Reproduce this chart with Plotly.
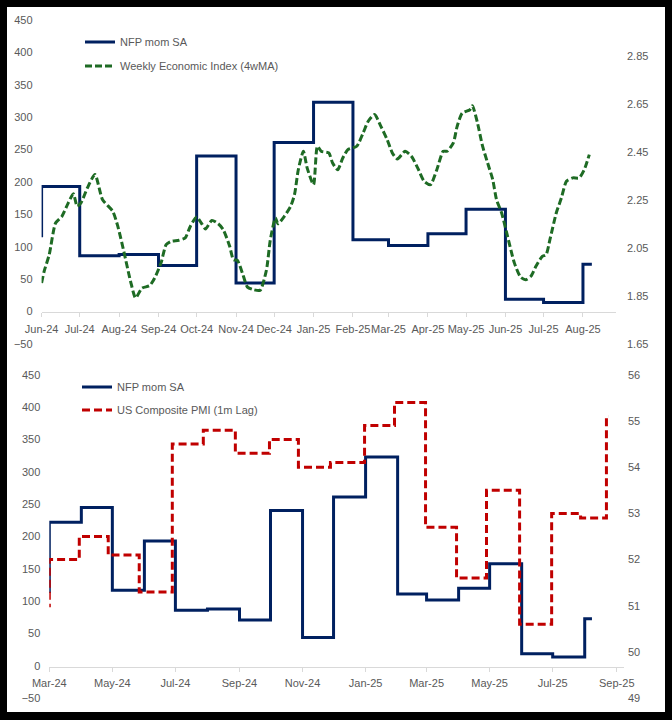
import plotly.graph_objects as go

# ---------------- data ----------------
nfp_dates = ["2024-02-01", "2024-03-01", "2024-04-01", "2024-05-01", "2024-06-01", "2024-07-01",
             "2024-08-01", "2024-09-01", "2024-10-01", "2024-11-01", "2024-12-01", "2025-01-01",
             "2025-02-01", "2025-03-01", "2025-04-01", "2025-05-01", "2025-06-01", "2025-07-01",
             "2025-08-01", "2025-08-08"]
nfp_values = [115, 222, 245, 117, 193, 86, 88, 71, 240, 44, 261, 323, 111, 102, 120, 158, 19, 14, 73, 73]

pmi_dates = ["2024-02-01", "2024-03-01", "2024-03-30", "2024-04-27", "2024-05-27", "2024-06-28",
             "2024-07-28", "2024-08-28", "2024-09-30", "2024-10-28", "2024-11-28", "2024-12-31",
             "2025-01-29", "2025-02-28", "2025-03-30", "2025-04-28", "2025-05-30", "2025-06-30",
             "2025-07-28", "2025-08-22", "2025-08-24"]
pmi_values = [51.0, 52.0, 52.5, 52.1, 51.3, 54.5, 54.8, 54.3, 54.6, 54.0, 54.1, 54.9,
              55.4, 52.7, 51.6, 53.5, 50.6, 53.0, 52.9, 55.1, 55.1]

wei_dates = ["2024-06-01", "2024-06-03", "2024-06-07", "2024-06-12", "2024-06-17", "2024-06-22",
             "2024-06-26", "2024-06-29", "2024-07-02", "2024-07-07", "2024-07-13", "2024-07-19",
             "2024-07-27", "2024-07-31", "2024-08-05", "2024-08-10", "2024-08-14", "2024-08-19",
             "2024-08-25", "2024-08-29", "2024-09-03", "2024-09-07", "2024-09-11", "2024-09-17",
             "2024-09-22", "2024-09-26", "2024-10-01", "2024-10-05", "2024-10-08", "2024-10-13",
             "2024-10-18", "2024-10-22", "2024-10-27", "2024-10-30", "2024-11-02", "2024-11-06",
             "2024-11-10", "2024-11-15", "2024-11-20", "2024-11-25", "2024-11-28", "2024-12-02",
             "2024-12-04", "2024-12-09", "2024-12-14", "2024-12-17", "2024-12-20", "2024-12-24",
             "2024-12-27", "2025-01-01", "2025-01-04", "2025-01-07", "2025-01-13", "2025-01-16",
             "2025-01-20", "2025-01-24", "2025-01-28", "2025-02-04", "2025-02-09", "2025-02-13",
             "2025-02-18", "2025-02-23", "2025-02-28", "2025-03-04", "2025-03-08", "2025-03-14",
             "2025-03-19", "2025-03-24", "2025-03-29", "2025-04-03", "2025-04-08", "2025-04-13",
             "2025-04-16", "2025-04-21", "2025-04-24", "2025-04-28", "2025-05-04", "2025-05-06",
             "2025-05-10", "2025-05-14", "2025-05-18", "2025-05-22", "2025-05-25", "2025-05-29",
             "2025-06-02", "2025-06-08", "2025-06-13", "2025-06-17", "2025-06-21", "2025-06-25",
             "2025-06-30", "2025-07-03", "2025-07-06", "2025-07-11", "2025-07-15", "2025-07-19",
             "2025-07-24", "2025-07-29", "2025-08-02", "2025-08-06"]
wei_values = [1.904, 1.953, 2.022, 2.154, 2.182, 2.238, 2.276, 2.224, 2.238, 2.300, 2.356, 2.251,
              2.203, 2.140, 2.029, 1.911, 1.842, 1.883, 1.893, 1.925, 1.988, 2.064, 2.078, 2.082,
              2.092, 2.140, 2.179, 2.151, 2.129, 2.165, 2.151, 2.126, 2.057, 2.001, 1.999, 1.946,
              1.887, 1.876, 1.874, 1.960, 2.085, 2.175, 2.151, 2.182, 2.224, 2.272, 2.376, 2.453,
              2.383, 2.314, 2.474, 2.453, 2.446, 2.404, 2.376, 2.425, 2.460, 2.474, 2.529, 2.578,
              2.606, 2.557, 2.501, 2.446, 2.421, 2.453, 2.432, 2.383, 2.328, 2.314, 2.376, 2.453,
              2.453, 2.488, 2.557, 2.612, 2.626, 2.643, 2.571, 2.474, 2.404, 2.335, 2.251, 2.196,
              2.113, 1.988, 1.928, 1.918, 1.932, 1.974, 2.015, 2.022, 2.085, 2.196, 2.258, 2.328,
              2.342, 2.342, 2.376, 2.439]

# ---------------- style ----------------
W, H = 672, 720
FONT = "Liberation Sans, Arial, sans-serif"
TXT = "#595959"
NAVY = "#002060"
GREEN = "#1E6B24"
RED = "#C00000"
AXIS = "#D9D9D9"

def fx(px):
    return px / W

def fy(py):
    return 1 - py / H

fig = go.Figure()

# top chart
fig.add_trace(go.Scatter(x=nfp_dates, y=nfp_values, name="NFP mom SA", mode="lines",
                         line=dict(color=NAVY, width=3, shape="hv"),
                         xaxis="x", yaxis="y", legend="legend", legendgroup="a"))
fig.add_trace(go.Scatter(x=wei_dates, y=wei_values, name="Weekly Economic Index (4wMA)", mode="lines",
                         line=dict(color=GREEN, width=3, dash="7px,3px", shape="spline", smoothing=0.6),
                         xaxis="x", yaxis="y2", legend="legend", legendgroup="b"))

# bottom chart
fig.add_trace(go.Scatter(x=nfp_dates, y=nfp_values, name="NFP mom SA", mode="lines",
                         line=dict(color=NAVY, width=3, shape="hv"),
                         xaxis="x2", yaxis="y3", legend="legend2", legendgroup="c"))
fig.add_trace(go.Scatter(x=pmi_dates, y=pmi_values, name="US Composite PMI (1m Lag)", mode="lines",
                         line=dict(color=RED, width=3, dash="8px,4px", shape="hv"),
                         xaxis="x2", yaxis="y4", legend="legend2", legendgroup="d"))

tickfont = dict(family=FONT, size=11, color=TXT)

xcommon = dict(type="date", tickformat="%b-%y", showgrid=False, zeroline=False,
               showline=True, linecolor=AXIS, linewidth=1, ticks="outside", ticklen=4,
               tickcolor=AXIS, tickfont=tickfont, anchor="free", fixedrange=True,
               tickangle=0, automargin=False, ticklabelstandoff=2)
ycommon = dict(showgrid=False, zeroline=False, showline=False, ticks="", tickfont=tickfont,
               fixedrange=True, automargin=False)

fig.update_layout(
    template="none",
    width=W, height=H,
    margin=dict(l=0, r=0, t=0, b=0, pad=0),
    paper_bgcolor="black",
    plot_bgcolor="white",
    showlegend=True,
    hovermode=False,
    xaxis=dict(xcommon, domain=[fx(41.6), fx(616)], position=fy(312.3),
               range=["2024-06-01", "2025-08-27"], tick0="2024-06-01", dtick="M1"),
    yaxis=dict(ycommon, domain=[fy(344), fy(20)], range=[-50, 450], dtick=50, tick0=0,
               anchor="x", ticklabelstandoff=8),
    yaxis2=dict(ycommon, overlaying="y", side="right", anchor="x", range=[1.65, 3.0],
                tick0=1.65, dtick=0.2, tickformat=".2f", ticklabelstandoff=10),
    xaxis2=dict(xcommon, domain=[fx(49.3), fx(624)], position=fy(666.7),
                range=["2024-03-01", "2025-09-08"], tick0="2024-03-01", dtick="M2"),
    yaxis3=dict(ycommon, domain=[fy(698.3), fy(374.7)], range=[-50, 450], dtick=50, tick0=0,
                anchor="x2", ticklabelstandoff=8),
    yaxis4=dict(ycommon, overlaying="y3", side="right", anchor="x2", range=[49, 56],
                tick0=49, dtick=1, ticklabelstandoff=3),
    legend=dict(x=fx(80), y=fy(27.5), xanchor="left", yanchor="top", bgcolor="rgba(0,0,0,0)",
                font=dict(family=FONT, size=11, color=TXT), tracegroupgap=5,
                itemclick=False, itemdoubleclick=False, borderwidth=0),
    legend2=dict(x=fx(77), y=fy(372.5), xanchor="left", yanchor="top", bgcolor="rgba(0,0,0,0)",
                 font=dict(family=FONT, size=11, color=TXT), tracegroupgap=4,
                 itemclick=False, itemdoubleclick=False, borderwidth=0),
    shapes=[dict(type="rect", xref="paper", yref="paper", x0=fx(7), x1=fx(665), y0=fy(712), y1=fy(7),
                 fillcolor="white", line=dict(width=0), layer="below")],
)

fig.write_html("out.html",
               config={"displayModeBar": False, "staticPlot": True},
               post_script="document.body.style.margin='0px';document.body.style.overflow='hidden';document.body.style.background='black';")
